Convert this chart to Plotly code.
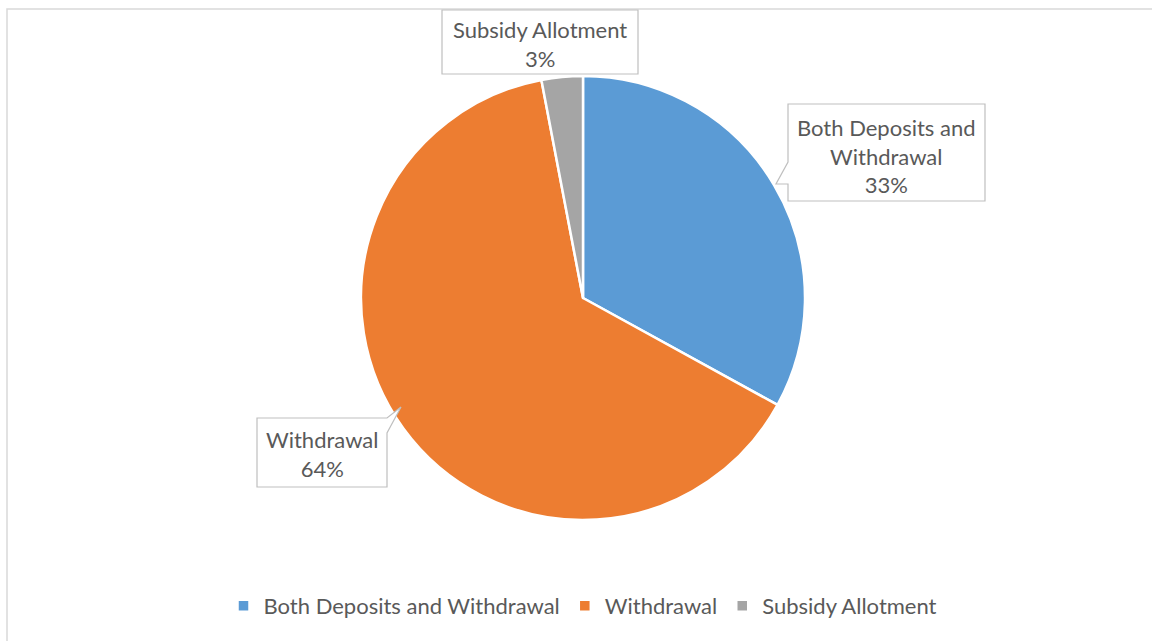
import plotly.graph_objects as go

# Transaction type shares (percent)
categories = ["Both Deposits and Withdrawal", "Withdrawal", "Subsidy Allotment"]
shares = [33, 64, 3]
colors = ["#5B9BD5", "#ED7D31", "#A5A5A5"]

# Callout label first lines (wrapped category names)
label_names = ["Both Deposits and<br>Withdrawal", "Withdrawal", "Subsidy Allotment"]

W, H = 1152, 641
FONT = "Lato"
TEXT = "#595959"


def px(x):
    return x / W


def py(y):
    return 1 - y / H


def path(points):
    return "M " + " L ".join(f"{px(x):.5f},{py(y):.5f}" for x, y in points) + " Z"


cx, cy, r = 583, 298, 222

fig = go.Figure(
    go.Pie(
        labels=categories,
        values=shares,
        sort=False,
        direction="clockwise",
        rotation=0,
        marker=dict(colors=colors, line=dict(color="white", width=2.5)),
        textinfo="none",
        hoverinfo="label+percent",
        domain=dict(x=[px(cx - r), px(cx + r)], y=[py(cy + r), py(cy - r)]),
    )
)

# Callout boxes (box outline with pointer notch) in pixel-derived paper coords
callouts = [
    # Both Deposits and Withdrawal
    dict(pts=[(788, 104), (985, 104), (985, 201), (788, 201), (788, 184), (776, 184), (788, 162)],
         tx=886, ty=156),
    # Withdrawal
    dict(pts=[(257, 418), (387, 418), (401, 407), (387, 433), (387, 487), (257, 487)],
         tx=322, ty=454),
    # Subsidy Allotment
    dict(pts=[(442, 10), (638, 10), (638, 74), (442, 74)],
         tx=540, ty=44),
]

shapes = [
    # chart area frame
    dict(type="rect", xref="paper", yref="paper",
         x0=px(7), x1=px(1170), y0=py(9), y1=py(660),
         line=dict(color="#D9D9D9", width=1.5), fillcolor="rgba(0,0,0,0)", layer="below"),
]
annotations = []
for name, val, c in zip(label_names, shares, callouts):
    shapes.append(dict(type="path", xref="paper", yref="paper", path=path(c["pts"]),
                       line=dict(color="#BFBFBF", width=1.2), fillcolor="white"))
    annotations.append(dict(
        xref="paper", yref="paper", x=px(c["tx"]), y=py(c["ty"]),
        xanchor="center", yanchor="middle", showarrow=False, align="center",
        text=f"{name}<br>{val}%",
        font=dict(family=FONT, size=22, color=TEXT),
    ))

fig.update_layout(
    width=W, height=H,
    margin=dict(l=0, r=0, t=0, b=0),
    paper_bgcolor="white",
    plot_bgcolor="white",
    shapes=shapes,
    annotations=annotations,
    showlegend=True,
    legend=dict(
        orientation="h", x=px(583), y=py(606), xanchor="center", yanchor="middle",
        font=dict(family=FONT, size=22, color=TEXT),
        itemwidth=30, tracegroupgap=0,
    ),
)

fig.write_html("out.html")
